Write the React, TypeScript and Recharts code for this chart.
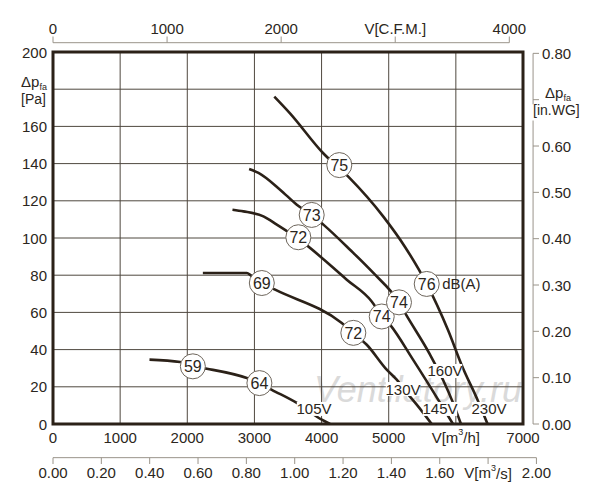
import React from 'react';
import {
  ComposedChart,
  Line,
  XAxis,
  YAxis,
  CartesianGrid,
  ReferenceArea,
  ReferenceDot,
  ReferenceLine,
} from 'recharts';

// fan curves, [m3/h, Pa]
const curve105V = [
  [1437, 34.6], [1894, 33.3], [2083, 31], [2292, 29.7], [2887, 24.7], [3074, 22],
  [3259, 18.4], [3631, 11.3], [4003, 2.3], [4127, 0],
];
const curve130V = [
  [2232, 81.2], [2887, 81.2], [2950, 79.8], [3110, 75.8], [3308, 72.2], [4301, 54.3],
  [4473, 49], [4673, 42.6], [4970, 29.2], [5119, 23.8], [5292, 15.8], [5417, 10.4], [5640, 0],
];
const curve145V = [
  [2673, 115.2], [2836, 114.3], [3134, 111.6], [3333, 107.2], [3655, 99.5], [4375, 77.6],
  [4747, 65.9], [4880, 59], [5019, 53.4], [5362, 34.6], [5763, 11.5], [5957, 0],
];
const curve160V = [
  [2921, 137.1], [3060, 135], [3382, 126], [3631, 117.9], [3869, 112], [4027, 107.2],
  [4424, 93.7], [4771, 81.2], [5153, 65.4], [5243, 59.7], [5615, 37.3], [5808, 23.8],
  [5957, 11.5], [6076, 0],
];
const curve230V = [
  [3296, 176], [3530, 167], [4021, 145.7], [4398, 133], [4920, 111.5], [5243, 95.2],
  [5566, 75.3], [5883, 50.5], [6092, 31.2], [6330, 12.4], [6472, 0],
];
const curves = [curve105V, curve130V, curve145V, curve160V, curve230V];

// noise level markers dB(A): [m3/h, Pa, value]
const noiseMarks: [number, number, string][] = [
  [2083, 31, '59'], [3074, 22, '64'],
  [3110, 75.8, '69'], [4473, 49, '72'],
  [3654, 100.4, '72'], [4896, 57.8, '74'],
  [3853, 112.4, '73'], [5153, 65.4, '74'],
  [4264, 139.2, '75'], [5566, 75.3, '76'],
];
// voltage labels: [m3/h, Pa, text]
const voltMarks: [number, number, string][] = [
  [3887, 8.1, '105V'], [5213, 18.8, '130V'], [5764, 8.1, '145V'],
  [5839, 28.5, '160V'], [6494, 8.1, '230V'],
];

const qTicks = [0, 1000, 2000, 3000, 4000, 5000, 6000, 7000];
const cfmTicks = [0, 1000, 2000, 3000, 4000];
const msTicks = [0, 0.2, 0.4, 0.6, 0.8, 1.0, 1.2, 1.4, 1.6, 1.8, 2.0];
const paTicks = [0, 20, 40, 60, 80, 100, 120, 140, 160, 180, 200];
const inwgTicks = [0, 0.1, 0.2, 0.3, 0.4, 0.5, 0.6, 0.7, 0.8];

const FONT = '"Liberation Sans", Arial, sans-serif';
const INK = '#2b2620';
const CURVE = '#2b2118';
const GRID = '#4f483f';
const AXIS = '#9a948a';

const QTick = ({ x, payload }: any) => {
  if (payload.value === 6000) {
    return (
      <text x={x} y={437} textAnchor="middle" dominantBaseline="central" fontSize={15} fill={INK} fontFamily={FONT}>
        V[m<tspan fontSize={9} dy={-5}>3</tspan><tspan dy={5}>/h]</tspan>
      </text>
    );
  }
  return (
    <text x={x} y={437} textAnchor="middle" dominantBaseline="central" fontSize={15} fill={INK} fontFamily={FONT}>
      {payload.value}
    </text>
  );
};

const MsTick = ({ x, payload }: any) => {
  const isName = Math.abs(payload.value - 1.8) < 1e-6;
  return (
    <g>
      <line x1={x} x2={x} y1={457.7} y2={464} stroke={AXIS} />
      <text x={x} y={472.5} textAnchor="middle" dominantBaseline="central" fontSize={15} fill={INK} fontFamily={FONT}>
        {isName ? (
          <>
            V[m<tspan fontSize={9} dy={-5}>3</tspan><tspan dy={5}>/s]</tspan>
          </>
        ) : (
          payload.value.toFixed(2)
        )}
      </text>
    </g>
  );
};

const CfmTick = ({ x, payload }: any) => (
  <g>
    <line x1={x} x2={x} y1={36.5} y2={42.7} stroke={AXIS} />
    <text x={x} y={28} textAnchor="middle" dominantBaseline="central" fontSize={15} fill={INK} fontFamily={FONT}>
      {payload.value === 3000 ? 'V[C.F.M.]' : payload.value}
    </text>
  </g>
);

const PaTick = ({ y, payload }: any) => {
  if (payload.value === 180) {
    return (
      <g fill={INK} fontFamily={FONT}>
        <text x={21} y={87} fontSize={15}>
          Δp<tspan fontSize={9} dy={3}>fa</tspan>
        </text>
        <text x={21} y={104} fontSize={14}>[Pa]</text>
      </g>
    );
  }
  return (
    <text x={47} y={y} textAnchor="end" dominantBaseline="central" fontSize={15} fill={INK} fontFamily={FONT}>
      {payload.value}
    </text>
  );
};

const InwgTick = ({ y, payload }: any) => {
  const isName = Math.abs(payload.value - 0.7) < 1e-6;
  return (
    <g>
      <line x1={533} x2={539} y1={y} y2={y} stroke={AXIS} />
      {isName ? (
        <g fill={INK} fontFamily={FONT}>
          <text x={545} y={98} fontSize={15}>
            Δp<tspan fontSize={9} dy={3}>fa</tspan>
          </text>
          <text x={533} y={115} fontSize={14}>[in.WG]</text>
        </g>
      ) : (
        <text x={542} y={y} dominantBaseline="central" fontSize={15} fill={INK} fontFamily={FONT}>
          {payload.value.toFixed(2)}
        </text>
      )}
    </g>
  );
};

const VoltLabel = ({ cx, cy, text }: any) => {
  const w = text.length * 8.6;
  return (
    <g>
      <rect x={cx - w / 2} y={cy - 7} width={w} height={14} fill="#fff" />
      <text x={cx} y={cy} textAnchor="middle" dominantBaseline="central" fontSize={15} fill={INK} fontFamily={FONT}>
        {text}
      </text>
    </g>
  );
};

const App = () => {
  return (
    <div style={{ position: 'absolute', left: 0, top: 0, width: 600, height: 500, background: '#fff' }}>
      <svg width={600} height={500} style={{ position: 'absolute', left: 0, top: 0 }}>
        <text x={314} y={402} fontSize={36} fontStyle="italic" fill="#dadada" fontFamily={FONT}>
          Ventilatory.ru
        </text>
      </svg>
      <div style={{ position: 'absolute', left: 0, top: 0 }}>
        <ComposedChart width={600} height={500} margin={{ top: 22, right: 17, bottom: 16, left: 8 }}>
          <CartesianGrid xAxisId="q" yAxisId="pa" stroke={GRID} strokeWidth={1} />
          <XAxis xAxisId="q" dataKey="q" type="number" domain={[0, 7000]} ticks={qTicks} interval={0}
            allowDataOverflow height={20} axisLine={false} tickLine={false} tick={QTick} />
          <XAxis xAxisId="ms" dataKey="q" type="number" domain={[0, 7000 / 3600]} ticks={msTicks} interval={0}
            allowDataOverflow height={40} axisLine={false} tickLine={false} tick={MsTick} />
          <XAxis xAxisId="cfm" dataKey="q" orientation="top" type="number" domain={[0, 7000 * 0.588578]}
            ticks={cfmTicks} interval={0} allowDataOverflow height={30} axisLine={false} tickLine={false}
            tick={CfmTick} />
          <YAxis yAxisId="pa" type="number" domain={[0, 200]} ticks={paTicks} interval={0}
            allowDataOverflow width={45} axisLine={false} tickLine={false} tick={PaTick} />
          <YAxis yAxisId="inwg" orientation="right" type="number" domain={[0, 200 / 249.0889]} ticks={inwgTicks}
            interval={0} allowDataOverflow width={60} axisLine={false} tickLine={false} tick={InwgTick} />

          <ReferenceLine xAxisId="cfm" yAxisId="pa" ifOverflow="visible" stroke={AXIS}
            segment={[{ x: 0, y: 205 }, { x: 4000, y: 205 }]} />
          <ReferenceLine xAxisId="ms" yAxisId="pa" ifOverflow="visible" stroke={AXIS}
            segment={[{ x: 0, y: -18.1 }, { x: 2, y: -18.1 }]} />
          <ReferenceLine xAxisId="q" yAxisId="inwg" ifOverflow="visible" stroke={AXIS}
            segment={[{ x: 7150, y: 0 }, { x: 7150, y: 0.655 }]} />
          <ReferenceLine xAxisId="q" yAxisId="inwg" ifOverflow="visible" stroke={AXIS}
            segment={[{ x: 7150, y: 0.69 }, { x: 7150, y: 0.8 }]} />

          {curves.map((c, i) => (
            <Line key={i} data={c.map(([q, p]) => ({ q, p }))} dataKey="p" xAxisId="q" yAxisId="pa"
              type="monotone" dot={false} activeDot={false} stroke={CURVE} strokeWidth={2.6}
              isAnimationActive={false} />
          ))}

          {voltMarks.map(([q, p, t]) => (
            <ReferenceDot key={t} x={q} y={p} xAxisId="q" yAxisId="pa" r={1}
              shape={(props: any) => <VoltLabel {...props} text={t} />} />
          ))}

          {noiseMarks.map(([q, p, v], i) => (
            <ReferenceDot key={i} x={q} y={p} xAxisId="q" yAxisId="pa" r={12.5} fill="#fff"
              stroke="#6e665c" strokeWidth={1}
              label={{ value: v, position: 'center', fontSize: 16, fill: INK, fontFamily: FONT }} />
          ))}
          <ReferenceDot x={5566} y={75.3} xAxisId="q" yAxisId="pa" r={12.5} fill="none" stroke="none"
            label={{ value: 'dB(A)', position: 'right', offset: 3, fontSize: 15, fill: INK, fontFamily: FONT }} />

          <ReferenceArea xAxisId="q" yAxisId="pa" x1={0} x2={7000} y1={0} y2={200} fill="none"
            stroke={CURVE} strokeWidth={3} />
        </ComposedChart>
      </div>
    </div>
  );
};

export default App;
